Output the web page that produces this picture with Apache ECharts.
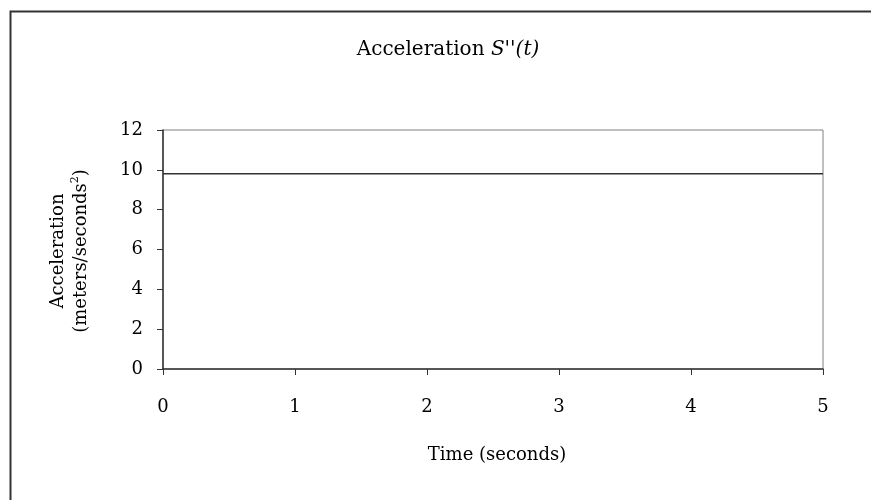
<!DOCTYPE html>
<html><head><meta charset="utf-8">
<script src="https://cdn.jsdelivr.net/npm/echarts@6/dist/echarts.min.js"></script>
<style>html,body{margin:0;padding:0;background:#fff}#c{width:871px;height:500px}</style>
</head><body><div id="c"></div>
<script>
var times = [0, 1, 2, 3, 4, 5];
var accel = [9.8, 9.8, 9.8, 9.8, 9.8, 9.8];
var xTicks = [0, 1, 2, 3, 4, 5];
var yTicks = [0, 2, 4, 6, 8, 10, 12];

var F = '"DejaVu Serif", "Liberation Serif", serif';
var FS = 18;
var chart = echarts.init(document.getElementById('c'));
chart.setOption({
  animation: false,
  backgroundColor: '#fff',
  title: {
    text: '{a|Acceleration }{b|S\'\'(t)}',
    left: 443, top: 35, textAlign: 'center',
    textStyle: { rich: {
      a: { fontFamily: F, fontSize: 20, color: '#000', fontWeight: 'normal' },
      b: { fontFamily: F, fontSize: 20, color: '#000', fontStyle: 'italic', fontWeight: 'normal' }
    } }
  },
  grid: { left: 163, right: 48, top: 130, bottom: 131, show: true, borderColor: '#808080', borderWidth: 1 },
  xAxis: {
    type: 'value', min: 0, max: 5, interval: 1,
    axisLine: { onZero: false, lineStyle: { color: '#333', width: 1.5 } },
    axisTick: { show: true, inside: false, length: 6, lineStyle: { color: '#333' } },
    axisLabel: { margin: 29, fontFamily: F, fontSize: FS, color: '#000',
      formatter: function (v) { return xTicks.indexOf(v) >= 0 ? String(v) : ''; } },
    splitLine: { show: false }
  },
  yAxis: {
    type: 'value', min: 0, max: 12, interval: 2,
    axisLine: { show: true, lineStyle: { color: '#333', width: 1.5 } },
    axisTick: { show: true, inside: false, length: 6, lineStyle: { color: '#333' } },
    axisLabel: { margin: 20, fontFamily: F, fontSize: FS, color: '#000',
      formatter: function (v) { return yTicks.indexOf(v) >= 0 ? String(v) : ''; } },
    splitLine: { show: false }
  },
  series: [{
    type: 'line', showSymbol: false, silent: true,
    data: times.map(function (t, i) { return [t, accel[i]]; }),
    lineStyle: { color: '#333', width: 1.5 }
  }],
  graphic: [
    { type: 'rect', shape: { x: 10.5, y: 11.5, width: 1000, height: 1000 },
      style: { fill: null, stroke: '#333', lineWidth: 2 }, silent: true, z: -1 },
    { type: 'text', x: 70, y: 251, rotation: Math.PI / 2,
      style: { text: 'Acceleration\n(meters/seconds{s|2})', align: 'center', verticalAlign: 'middle',
        fontFamily: F, fontSize: FS, fill: '#000', lineHeight: 23,
        rich: { s: { fontFamily: F, fontSize: 11, fill: '#000', verticalAlign: 'top', padding: [0, 0, 7, 0] } } } },
    { type: 'text', x: 497, y: 455,
      style: { text: 'Time (seconds)', align: 'center', verticalAlign: 'middle', fontFamily: F, fontSize: FS, fill: '#000' } }
  ]
});
</script></body></html>
